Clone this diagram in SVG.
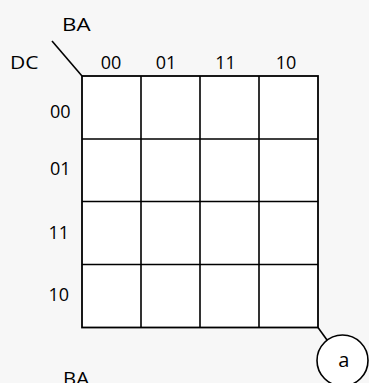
<svg xmlns="http://www.w3.org/2000/svg" width="369" height="383" viewBox="0 0 369 383">
<style>
.t{font-family:"Open Sans","Liberation Sans",Arial,sans-serif;font-size:18px;fill:#000}
.lbl{font-family:"Open Sans","Liberation Sans",Arial,sans-serif;font-size:18.5px;fill:#000}
.cell{fill:#fff;stroke:#000;stroke-width:1.8}
.ln{stroke:#000;stroke-width:1.6;fill:none}
</style>
<rect x="0" y="0" width="369" height="383" fill="#f7f7f7"/>
<g id="axis-labels">
<text class="lbl" x="62" y="30.7" textLength="28.5" lengthAdjust="spacingAndGlyphs">BA</text>
<text class="lbl" x="10" y="69" textLength="28.5" lengthAdjust="spacingAndGlyphs">DC</text>
</g>
<g id="col-labels" text-anchor="middle">
<text class="t" x="111" y="69">00</text>
<text class="t" x="166" y="69">01</text>
<text class="t" x="225.5" y="69">11</text>
<text class="t" x="286" y="69">10</text>
</g>
<g id="row-labels" text-anchor="end">
<text class="t" x="70.5" y="117.7">00</text>
<text class="t" x="70.5" y="175">01</text>
<text class="t" x="69" y="238.7">11</text>
<text class="t" x="69" y="301">10</text>
</g>
<g id="kmap-grid">
<rect class="cell" x="82" y="76" width="236" height="251.5"/>
<path class="ln" stroke-width="1.8" d="M141 76V327.5M200 76V327.5M259 76V327.5M82 139H318M82 201.5H318M82 264.5H318"/>
</g>
<g id="connectors">
<line class="ln" x1="52" y1="41" x2="82" y2="76"/>
<line class="ln" x1="318" y1="327.5" x2="327" y2="340"/>
</g>
<g id="node-a">
<circle cx="342.5" cy="360.5" r="25.5" fill="#fff" stroke="#000" stroke-width="1.6"/>
<text x="343.8" y="366.7" text-anchor="middle" style="font-family:'Open Sans','Liberation Sans',Arial,sans-serif;font-size:20px">a</text>
</g>
<g id="bottom-label">
<text class="lbl" x="63" y="384.5" textLength="26" lengthAdjust="spacingAndGlyphs">BA</text>
</g>
</svg>
